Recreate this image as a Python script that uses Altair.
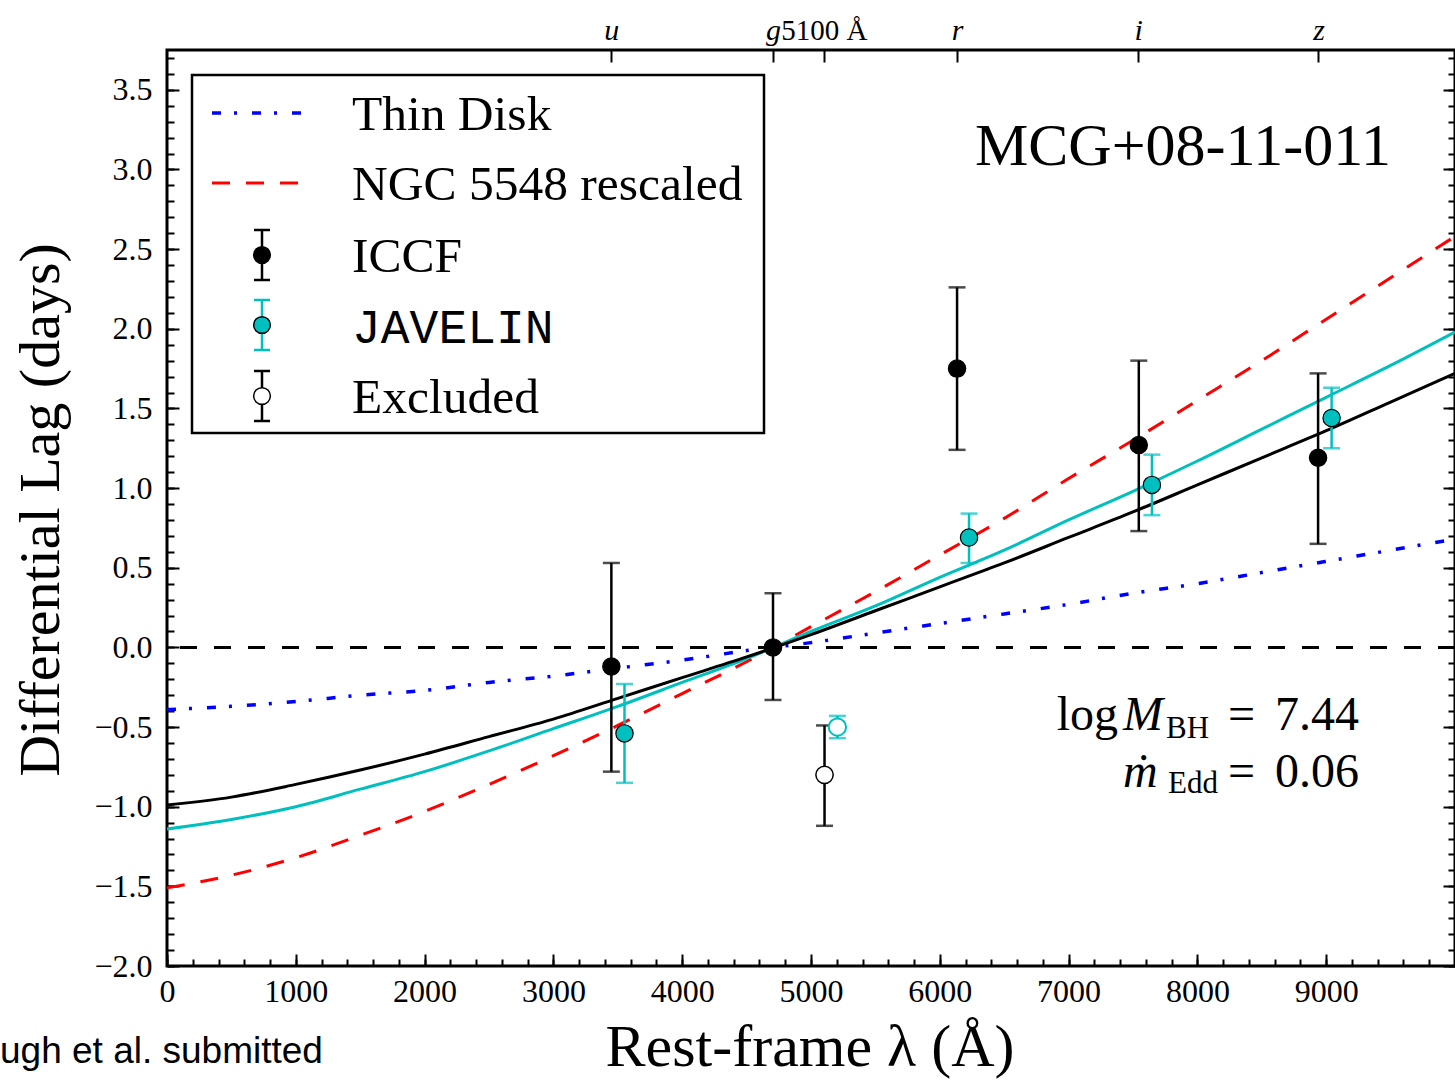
import altair as alt
import pandas as pd

# ---------------- data ----------------
lam = [0, 500, 1000, 1500, 2000, 2500, 3000, 3500, 4000, 4500, 5000,
       5500, 6000, 6500, 7000, 7500, 8000, 8500, 9000, 9500, 10000]
thin_disk = [-0.39, -0.37, -0.34, -0.30, -0.27, -0.22, -0.18, -0.13, -0.08, -0.02, 0.03,
             0.09, 0.15, 0.21, 0.27, 0.34, 0.40, 0.47, 0.54, 0.61, 0.68]
ngc5548 = [-1.51, -1.43, -1.32, -1.18, -1.03, -0.86, -0.68, -0.49, -0.29, -0.09, 0.13,
           0.35, 0.58, 0.81, 1.06, 1.30, 1.55, 1.80, 2.06, 2.32, 2.58]
fit_iccf = [-0.99, -0.94, -0.86, -0.77, -0.67, -0.56, -0.45, -0.32, -0.19, -0.06, 0.08,
            0.23, 0.38, 0.53, 0.69, 0.85, 1.02, 1.19, 1.36, 1.54, 1.72]
fit_jav = [-1.14, -1.08, -1.00, -0.89, -0.78, -0.65, -0.51, -0.37, -0.22, -0.07, 0.10,
           0.26, 0.44, 0.61, 0.80, 0.98, 1.17, 1.37, 1.57, 1.77, 1.98]

iccf_x = [3450, 4705, 6134, 7545, 8937]
iccf_y = [-0.12, 0.00, 1.75, 1.27, 1.19]
iccf_lo = [-0.78, -0.33, 1.24, 0.73, 0.65]
iccf_hi = [0.53, 0.34, 2.26, 1.80, 1.72]

jav_x = [3552, 6227, 7647, 9042]
jav_y = [-0.54, 0.69, 1.02, 1.44]
jav_lo = [-0.85, 0.53, 0.83, 1.25]
jav_hi = [-0.23, 0.84, 1.21, 1.63]

excl_iccf_x = [5105]
excl_iccf_y = [-0.80]
excl_iccf_lo = [-1.12]
excl_iccf_hi = [-0.49]

excl_jav_x = [5205]
excl_jav_y = [-0.50]
excl_jav_lo = [-0.57]
excl_jav_hi = [-0.43]

band_names = ["u", "g", "r", "i", "z"]
band_lam = [3450, 4705, 6134, 7540, 8940]
ref_lam = [5100]
ref_label = "5100 Å"

x_major = [0, 1000, 2000, 3000, 4000, 5000, 6000, 7000, 8000, 9000]
y_major = [-2.0, -1.5, -1.0, -0.5, 0.0, 0.5, 1.0, 1.5, 2.0, 2.5, 3.0, 3.5]
x_minor = list(range(0, 10001, 200))
y_minor = [round(-2.0 + 0.1 * k, 1) for k in range(58)]

# ---------------- style ----------------
SERIF = "Liberation Serif"
MONO = "Liberation Mono"
SANS = "Liberation Sans"
CYAN = "#00BFBF"
W, H = 1288, 916
LW = 3
DASH_BLUE = [9, 13, 3, 15]
DASH_RED = [18, 16]
DASH_ZERO = [17, 17]

xs = alt.Scale(domain=[0, 10000], nice=False, zero=False)
ys = alt.Scale(domain=[-2.0, 3.75], nice=False, zero=False)

TICK = dict(domain=False, grid=False, labels=False, title=None, tickColor="black",
            tickWidth=2)


def X(field, axis):
    return alt.X(field, type="quantitative", scale=xs, axis=axis)


def Y(field, axis):
    return alt.Y(field, type="quantitative", scale=ys, axis=axis)


ax_bottom_labels = alt.Axis(orient="bottom", values=x_major, format="d", tickSize=0,
                            labelPadding=10, labelFontSize=32, labelFont=SERIF,
                            labelColor="black", labelFlush=False, labelOverlap=False,
                            domain=False, grid=False, title=None)
ax_left_labels = alt.Axis(orient="left", values=y_major, tickSize=0, labelPadding=15,
                          labelFontSize=32, labelFont=SERIF, labelColor="black",
                          labelExpr="replace(format(datum.value, '.1f'), '-', '\u2212')",
                          labelFlush=False, labelOverlap=False, domain=False, grid=False,
                          title=None)
band_expr = " : ".join(f"datum.value == {v} ? '{n}'" for v, n in zip(band_lam, band_names)) + " : ''"
ax_top_bands = alt.Axis(orient="top", values=band_lam, tickSize=0, labelPadding=11,
                        labelBaseline="alphabetic", labelFontSize=30, labelFont=SERIF,
                        labelFontStyle="italic", labelColor="black", labelExpr=band_expr,
                        labelFlush=False, labelOverlap=False, domain=False, grid=False,
                        title=None)
ax_top_ref = alt.Axis(orient="top", values=ref_lam, tickSize=0, labelPadding=11,
                      labelBaseline="alphabetic", labelFontSize=29, labelFont=SERIF,
                      labelColor="black", labelExpr=f"'{ref_label}'", labelFlush=False,
                      labelOverlap=False, domain=False, grid=False, title=None)

ax_b_major = alt.Axis(orient="top", offset=-H, values=x_major + [10000], tickSize=12, **TICK)
ax_b_minor = alt.Axis(orient="top", offset=-H, values=x_minor, tickSize=7, **TICK)
ax_t_ticks = alt.Axis(orient="bottom", offset=-H, values=band_lam + ref_lam, tickSize=12, **TICK)
ax_l_major = alt.Axis(orient="right", offset=-W, values=y_major, tickSize=12, **TICK)
ax_l_minor = alt.Axis(orient="right", offset=-W, values=y_minor, tickSize=7, **TICK)
ax_r_major = alt.Axis(orient="left", offset=-W, values=y_major, tickSize=12, **TICK)
ax_r_minor = alt.Axis(orient="left", offset=-W, values=y_minor, tickSize=7, **TICK)


def curve_df(vals):
    return pd.DataFrame({"lam": lam, "lag": vals})


def pts_df(x, y, lo, hi):
    return pd.DataFrame({"lam": x, "lag": y, "lo": lo, "hi": hi})


df_iccf = pts_df(iccf_x, iccf_y, iccf_lo, iccf_hi)
df_jav = pts_df(jav_x, jav_y, jav_lo, jav_hi)
df_ex_i = pts_df(excl_iccf_x, excl_iccf_y, excl_iccf_lo, excl_iccf_hi)
df_ex_j = pts_df(excl_jav_x, excl_jav_y, excl_jav_lo, excl_jav_hi)

layers = []

# zero line
layers.append(alt.Chart(pd.DataFrame({"z": [0.0]})).mark_rule(
    color="black", strokeWidth=LW, strokeDash=DASH_ZERO).encode(y=Y("z", None)))

# curves (also carry the axes)
layers.append(alt.Chart(curve_df(thin_disk)).mark_line(
    color="#0000FF", strokeWidth=3.5, strokeDash=DASH_BLUE, interpolate="monotone").encode(
    x=X("lam", ax_b_major), y=Y("lag", ax_r_major)))
layers.append(alt.Chart(curve_df(ngc5548)).mark_line(
    color="#FF0000", strokeWidth=LW, strokeDash=DASH_RED, interpolate="monotone").encode(
    x=X("lam", ax_top_ref), y=Y("lag", ax_l_minor)))
layers.append(alt.Chart(curve_df(fit_jav)).mark_line(
    color=CYAN, strokeWidth=LW, interpolate="monotone").encode(
    x=X("lam", ax_top_bands), y=Y("lag", ax_l_major)))
layers.append(alt.Chart(curve_df(fit_iccf)).mark_line(
    color="black", strokeWidth=LW, interpolate="monotone").encode(
    x=X("lam", ax_bottom_labels), y=Y("lag", ax_left_labels)))


def errbars(df, color, xaxis=None, yaxis=None):
    out = [alt.Chart(df).mark_rule(color=color, strokeWidth=2.5).encode(
        x=X("lam", xaxis), y=Y("lo", yaxis), y2="hi")]
    for f in ("lo", "hi"):
        out.append(alt.Chart(df).mark_tick(color=color, orient="horizontal", size=17,
                                           thickness=2.5).encode(
            x=X("lam", None), y=Y(f, None)))
    return out


layers += errbars(df_iccf, "black", ax_b_minor, ax_r_minor)
layers += errbars(df_jav, CYAN, ax_t_ticks, None)
layers += errbars(df_ex_i, "black")
layers += errbars(df_ex_j, CYAN)

PT = 300
layers.append(alt.Chart(df_iccf).mark_point(shape="circle", filled=True, size=PT, fill="black",
                                            stroke="black", strokeWidth=1.2, opacity=1).encode(
    x=X("lam", None), y=Y("lag", None)))
layers.append(alt.Chart(df_jav).mark_point(shape="circle", filled=True, size=PT, fill=CYAN,
                                           stroke="black", strokeWidth=1.2, opacity=1).encode(
    x=X("lam", None), y=Y("lag", None)))
layers.append(alt.Chart(df_ex_i).mark_point(shape="circle", filled=True, size=PT, fill="white",
                                            stroke="black", strokeWidth=1.5, opacity=1).encode(
    x=X("lam", None), y=Y("lag", None)))
layers.append(alt.Chart(df_ex_j).mark_point(shape="circle", filled=True, size=PT, fill="white",
                                            stroke=CYAN, strokeWidth=2, opacity=1).encode(
    x=X("lam", None), y=Y("lag", None)))

# ---------------- legend & annotations (pixel positions) ----------------
one = pd.DataFrame({"k": [0]})


def txt(s, x, y, size, font=SERIF, style="normal", align="left", baseline="alphabetic",
        angle=0):
    return alt.Chart(one).mark_text(text=s, fontSize=size, font=font, fontStyle=style,
                                    align=align, baseline=baseline, angle=angle,
                                    color="black").encode(x=alt.value(x), y=alt.value(y))


layers.append(alt.Chart(one).mark_rect(fill="white", stroke="black", strokeWidth=2.5).encode(
    x=alt.value(25), x2=alt.value(597), y=alt.value(25), y2=alt.value(383)))

rows = [63, 133, 205, 275, 346]
layers.append(alt.Chart(one).mark_rule(color="#0000FF", strokeWidth=3.5,
                                       strokeDash=DASH_BLUE).encode(
    x=alt.value(45), x2=alt.value(135), y=alt.value(rows[0])))
layers.append(alt.Chart(one).mark_rule(color="#FF0000", strokeWidth=LW,
                                       strokeDash=DASH_RED).encode(
    x=alt.value(45), x2=alt.value(135), y=alt.value(rows[1])))

for r, ecol, fill, stroke in [(rows[2], "black", "black", "black"),
                              (rows[3], CYAN, CYAN, "black"),
                              (rows[4], "black", "white", "black")]:
    layers.append(alt.Chart(one).mark_rule(color=ecol, strokeWidth=2.5).encode(
        x=alt.value(95), y=alt.value(r - 25), y2=alt.value(r + 25)))
    for dy in (-25, 25):
        layers.append(alt.Chart(one).mark_rule(color=ecol, strokeWidth=2.5).encode(
            x=alt.value(87), x2=alt.value(103), y=alt.value(r + dy)))
    layers.append(alt.Chart(one).mark_point(shape="circle", filled=True, size=280, fill=fill,
                                            stroke=stroke, strokeWidth=1.5, opacity=1).encode(
        x=alt.value(95), y=alt.value(r)))

layers.append(txt("Thin Disk", 185, rows[0] + 17, 49.5))
layers.append(txt("NGC 5548 rescaled", 185, rows[1] + 17, 49.5))
layers.append(txt("ICCF", 185, rows[2] + 17, 49.5))
layers.append(txt("JAVELIN", 185, rows[3] + 18, 48, font=MONO))
layers.append(txt("Excluded", 185, rows[4] + 17, 49.5))

layers.append(txt("MCG+08-11-011", 808, 115, 60))

layers.append(txt("log", 951, 680, 48, align="right"))
layers.append(txt("M", 956, 680, 48, style="italic"))
layers.append(txt("BH", 999, 688, 31))
layers.append(txt("=", 1061, 680, 48))
layers.append(txt("7.44", 1108, 680, 48))
layers.append(txt("\u1e41", 956, 737, 48, style="italic"))
layers.append(txt("Edd", 1001, 743, 31))
layers.append(txt("=", 1061, 737, 48))
layers.append(txt("0.06", 1108, 737, 48))

layers.append(txt("Differential Lag (days)", -125, 460, 58, align="center",
                  baseline="middle", angle=270))
layers.append(txt("Rest-frame λ (Å)", 643, 1016, 60, align="center"))
layers.append(txt("ugh et al. submitted", -167, 1013, 37, font=SANS, align="left"))

chart = alt.layer(*layers).properties(
    width=W, height=H,
    padding={"left": 167, "top": 50, "right": 0, "bottom": 114},
    autosize=alt.AutoSizeParams(type="none"),
    background="white",
).resolve_axis(x="independent", y="independent").configure_view(
    stroke="black", strokeWidth=3)

chart.save("out.html", embed_options={"renderer": "svg", "actions": False})
